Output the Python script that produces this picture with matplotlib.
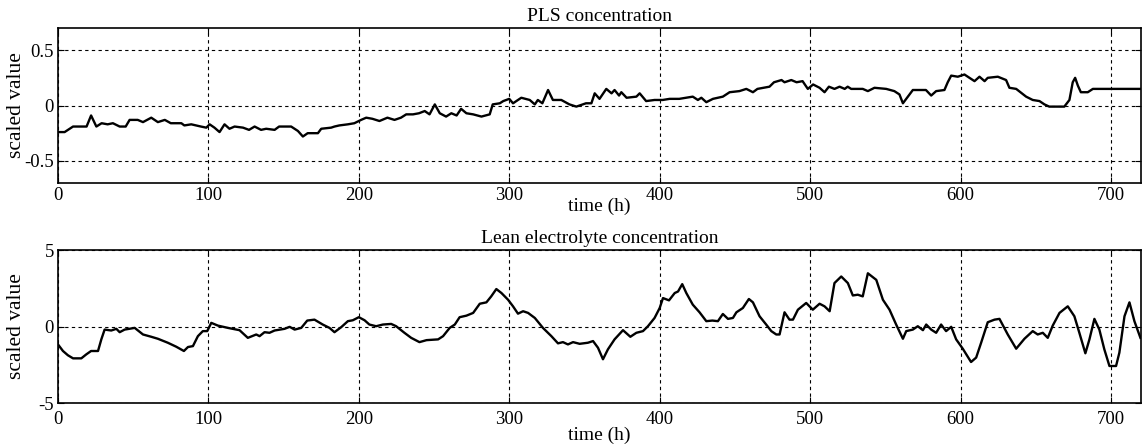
import matplotlib
matplotlib.use("Agg")
import matplotlib.pyplot as plt

plt.rcParams['font.family'] = ['Liberation Serif', 'DejaVu Serif']
plt.rcParams['font.size'] = 13.5

# PLS concentration (time h, scaled value)
pls_t = [0, 4.4, 10, 19, 22, 25.5, 29, 33, 36.5, 41, 45, 47.6, 53, 56.5, 62, 66.4, 71, 75, 82, 84,
         88.6, 95, 98.6, 100.8, 104, 107.4, 110.7, 114, 117.4, 123, 127, 130.7, 135, 138.4, 144, 147,
         155, 159.5, 162.8, 166, 172.8, 175, 181.6, 183.8, 187, 192.7, 197, 201.5, 204.9, 209, 213.7,
         219, 223.7, 228, 231.5, 236, 240, 243.8, 247, 250.5, 253.8, 258, 261.5, 265, 268, 271.5, 276,
         281.5, 287, 289, 293.7, 296, 300, 302.5, 308, 313.6, 317, 319, 322, 325.8, 329, 334.6, 340,
         344.6, 351, 354.6, 356.8, 360, 364.5, 368, 370, 373, 374.5, 378, 384.5, 386.7, 391, 396.6,
         402, 406.6, 413, 422, 425.4, 427.7, 431, 435.4, 442, 446.5, 453, 457.6, 462, 465, 473, 476,
         481, 483, 487.5, 491, 495, 498.5, 502, 506.3, 509.6, 512.5, 516.2, 519.6, 523, 525, 527.3,
         535, 538.4, 542.8, 550.6, 556, 559.4, 561.7, 565, 568.3, 577, 580.5, 583.8, 589.3, 591.5,
         593.8, 598.2, 602.6, 606, 609.3, 612.6, 616, 618.1, 624.8, 630.3, 632.5, 637, 643.6, 648,
         652.5, 655.8, 659, 669, 672.4, 674.6, 676.2, 678, 680, 684.6, 688, 696.8, 720]
pls_v = [-0.24, -0.24, -0.19, -0.19, -0.09, -0.19, -0.16, -0.17, -0.16, -0.19, -0.19, -0.13, -0.13,
         -0.15, -0.11, -0.15, -0.13, -0.16, -0.16, -0.18, -0.17, -0.19, -0.20, -0.17, -0.20, -0.24,
         -0.17, -0.21, -0.19, -0.20, -0.22, -0.19, -0.22, -0.21, -0.22, -0.19, -0.19, -0.23, -0.28,
         -0.25, -0.25, -0.21, -0.20, -0.19, -0.18, -0.17, -0.16, -0.13, -0.11, -0.12, -0.14, -0.11,
         -0.13, -0.11, -0.08, -0.08, -0.07, -0.05, -0.08, 0.01, -0.07, -0.10, -0.07, -0.09, -0.03,
         -0.07, -0.08, -0.10, -0.08, 0.01, 0.02, 0.04, 0.06, 0.02, 0.07, 0.05, 0.01, 0.05, 0.02, 0.14,
         0.05, 0.05, 0.01, -0.01, 0.02, 0.02, 0.11, 0.06, 0.15, 0.11, 0.14, 0.09, 0.12, 0.07, 0.08,
         0.11, 0.04, 0.05, 0.05, 0.06, 0.06, 0.08, 0.05, 0.07, 0.03, 0.06, 0.08, 0.12, 0.13, 0.15,
         0.12, 0.15, 0.17, 0.21, 0.23, 0.21, 0.23, 0.21, 0.22, 0.15, 0.19, 0.16, 0.12, 0.17, 0.15,
         0.17, 0.15, 0.17, 0.15, 0.15, 0.13, 0.16, 0.15, 0.13, 0.10, 0.02, 0.08, 0.14, 0.14, 0.09,
         0.13, 0.14, 0.21, 0.27, 0.26, 0.28, 0.25, 0.22, 0.26, 0.22, 0.25, 0.26, 0.23, 0.16, 0.15,
         0.08, 0.05, 0.04, 0.01, -0.01, -0.01, 0.05, 0.21, 0.25, 0.18, 0.12, 0.12, 0.15, 0.15, 0.15]

# Lean electrolyte concentration (time h, scaled value)
lean_t = [0, 3.3, 6.6, 10, 15.5, 18.8, 22, 26.6, 28.8, 31, 35.4, 38.8, 41, 44.3, 51, 56.5, 62, 66.4,
          73, 78.6, 83.7, 86.4, 89.7, 93, 96.3, 99.2, 101.9, 106.3, 113, 120.7, 126.2, 131.8, 134,
          137.3, 140.6, 144, 150.6, 154, 157.3, 161.7, 165.7, 170.5, 176, 180.5, 183.8, 188.3, 192.7,
          196, 200, 203.8, 207, 211.5, 216, 221.5, 224.8, 230.3, 234.8, 240.3, 245, 252.7, 256,
          260.4, 263.8, 267, 271.5, 276, 280.4, 284.8, 288, 291.4, 294.8, 299.2, 302.5, 305.8,
          309.2, 312.5, 317, 322.4, 328, 332.4, 335.7, 339, 342.4, 346.8, 352.3, 355.7, 359, 362.3,
          365.6, 370, 375.6, 380.5, 384.5, 388.9, 392.2, 396.6, 400, 402.2, 406.2, 410, 412.2, 415,
          417.7, 422, 426.5, 431, 435, 438.7, 442, 445.4, 448.7, 451, 455.3, 459.3, 462, 466.4,
          470.8, 474.2, 477.5, 479.7, 483, 486.3, 488.6, 491.9, 497.4, 501.8, 506.3, 509.6, 513,
          516.2, 520.7, 525.1, 528.4, 531.7, 535, 538.4, 544, 548.4, 552.8, 557.2, 561.7, 563.9,
          568.3, 571.6, 575, 577.2, 580.5, 583.8, 587.1, 590.4, 593.8, 597.1, 601.5, 607, 610.4,
          613.7, 618.1, 622.6, 625.9, 631.4, 637, 642.5, 648, 651.3, 654.7, 658, 661.3, 665.8,
          671.3, 675.7, 679, 683, 685.7, 689, 692.3, 695.6, 699, 703.4, 705.6, 709, 712.3, 715.6,
          719.6]
lean_v = [-1.17, -1.6, -1.88, -2.08, -2.08, -1.82, -1.6, -1.6, -0.84, -0.2, -0.26, -0.15, -0.37,
          -0.2, -0.09, -0.52, -0.67, -0.8, -1.06, -1.32, -1.6, -1.34, -1.28, -0.63, -0.3, -0.3,
          0.24, 0.06, -0.09, -0.24, -0.74, -0.52, -0.63, -0.37, -0.41, -0.26, -0.15, -0.02, -0.2,
          -0.09, 0.39, 0.45, 0.13, -0.09, -0.37, -0.04, 0.35, 0.41, 0.61, 0.41, 0.13, 0.02, 0.13,
          0.17, 0.02, -0.41, -0.74, -1.02, -0.89, -0.84, -0.63, -0.09, 0.13, 0.61, 0.71, 0.89, 1.49,
          1.58, 1.97, 2.45, 2.19, 1.75, 1.32, 0.84, 1.0, 0.89, 0.56, -0.09, -0.63, -1.1, -1.02,
          -1.17, -1.02, -1.13, -1.06, -0.95, -1.39, -2.14, -1.49, -0.84, -0.24, -0.67, -0.41, -0.3,
          0.02, 0.56, 1.21, 1.86, 1.71, 2.19, 2.29, 2.77, 2.19, 1.43, 0.93, 0.35, 0.39, 0.35, 0.82,
          0.5, 0.56, 0.93, 1.21, 1.8, 1.58, 0.67, 0.13, -0.3, -0.52, -0.52, 0.93, 0.45, 0.45, 1.1,
          1.54, 1.1, 1.49, 1.32, 1.0, 2.84, 3.27, 2.84, 2.03, 2.08, 1.97, 3.48, 3.05, 1.75, 1.1,
          0.13, -0.8, -0.3, -0.2, 0.02, -0.24, 0.13, -0.2, -0.41, 0.13, -0.3, -0.02, -0.84, -1.45,
          -2.32, -2.03, -1.06, 0.28, 0.45, 0.5, -0.52, -1.45, -0.8, -0.3, -0.52, -0.41, -0.74, 0.06,
          0.89, 1.32, 0.67, -0.41, -1.75, -0.84, 0.5, -0.2, -1.49, -2.58, -2.58, -1.71, 0.67, 1.58,
          0.35, -0.74]

titles = ["PLS concentration", "Lean electrolyte concentration"]
xticks = [0, 100, 200, 300, 400, 500, 600, 700]
yticks_top = [-0.5, 0, 0.5]
yticks_bot = [-5, 0, 5]

fig = plt.figure(figsize=(11.44, 4.48), dpi=100)
ax1 = fig.add_axes([0.0507, 0.5915, 0.9467, 0.346])
ax2 = fig.add_axes([0.0507, 0.1004, 0.9467, 0.3415])

def style(ax, title, yticks, ylim, yticklabels, xpad, xlabelpad):
    ax.set_xlim(0, 720)
    ax.set_ylim(*ylim)
    ax.set_xticks(xticks)
    ax.set_yticks(yticks)
    ax.set_yticklabels(yticklabels)
    ax.grid(True, color='black', linestyle=(0, (3, 3)), linewidth=0.8)
    ax.set_title(title, fontsize=14, pad=5)
    ax.set_xlabel("time (h)", fontsize=14, labelpad=xlabelpad)
    ax.set_ylabel("scaled value", fontsize=15.5)
    ax.yaxis.set_label_coords(-0.030, 0.5)
    ax.tick_params(direction='in', length=4, width=0.8, top=True, right=True, labelsize=13.5)
    ax.tick_params(axis='x', pad=xpad)
    ax.tick_params(axis='y', pad=3)
    for s in ax.spines.values():
        s.set_linewidth(1.2)

ax1.plot(pls_t, pls_v, color='black', linewidth=1.7)
style(ax1, titles[0], yticks_top, (-0.7, 0.7), ["-0.5", "0", "0.5"], 3, -5)
ax2.plot(lean_t, lean_v, color='black', linewidth=1.7)
style(ax2, titles[1], yticks_bot, (-5, 5), ["-5", "0", "5"], 6, -1)

fig.savefig("out.png", dpi=100)
